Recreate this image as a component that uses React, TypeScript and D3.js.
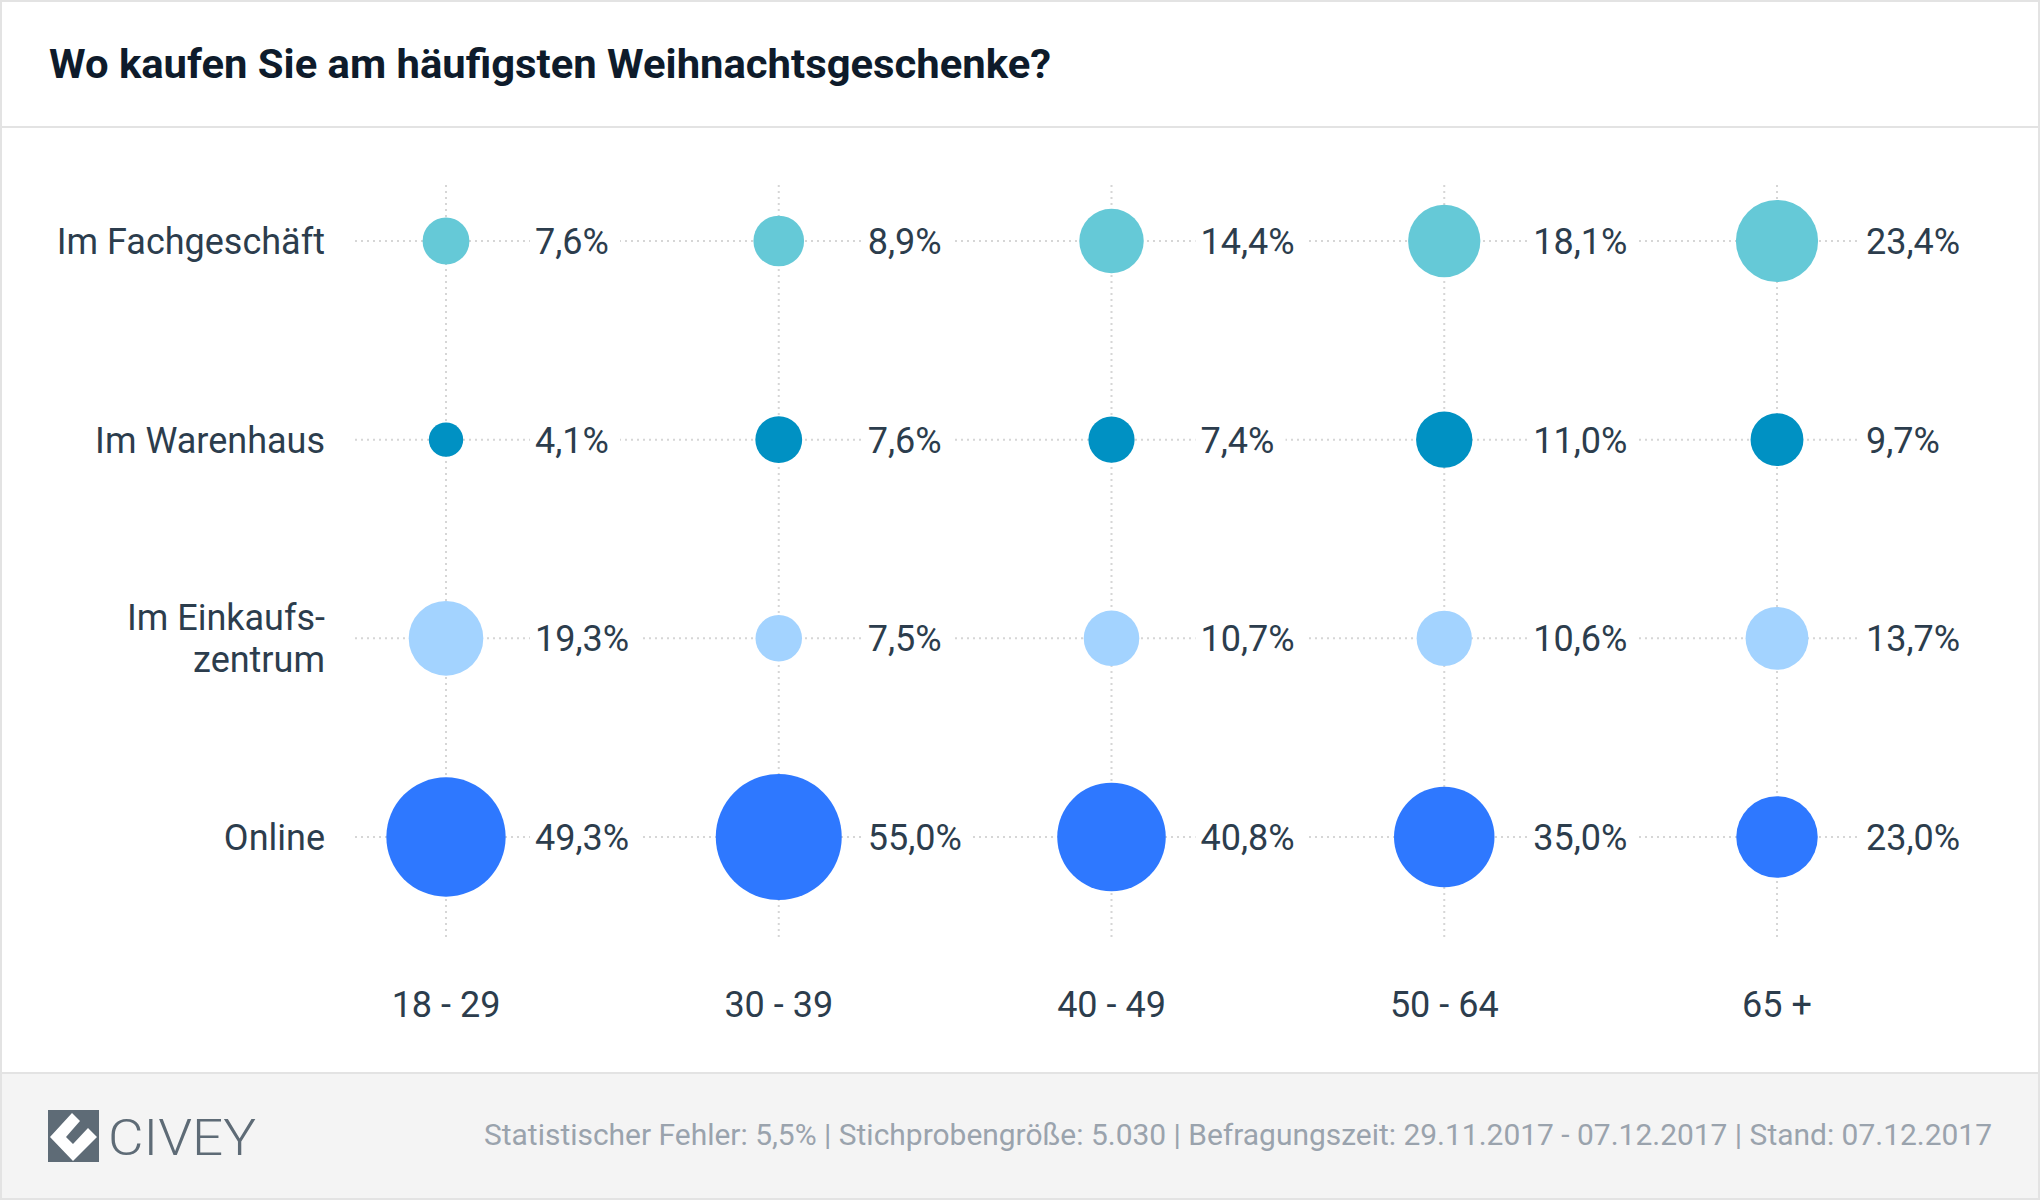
import React from 'react';
import * as d3 from 'd3';

const categories = ['18 - 29', '30 - 39', '40 - 49', '50 - 64', '65 +'];
const rowLabels = ['Im Fachgeschäft', 'Im Warenhaus', 'Im Einkaufs-\nzentrum', 'Online'];
const fachgeschaeft = [7.6, 8.9, 14.4, 18.1, 23.4];
const warenhaus = [4.1, 7.6, 7.4, 11.0, 9.7];
const einkaufszentrum = [19.3, 7.5, 10.7, 10.6, 13.7];
const online = [49.3, 55.0, 40.8, 35.0, 23.0];
const rowColors = ['#65C9D7', '#0091C3', '#A3D3FF', '#2E78FF'];
const title = 'Wo kaufen Sie am häufigsten Weihnachtsgeschenke?';
const footer = 'Statistischer Fehler: 5,5% | Stichprobengröße: 5.030 | Befragungszeit: 29.11.2017 - 07.12.2017 | Stand: 07.12.2017';

const W = 2040;
const H = 1200;
const FONT = 'Roboto, "Noto Sans", sans-serif';
const TEXT = '#2C3D4D';

export default function App() {
  const series = [fachgeschaeft, warenhaus, einkaufszentrum, online];
  const x = d3.scalePoint<string>().domain(categories).range([446, 1777]);
  const y = d3.scalePoint<string>().domain(rowLabels).range([241, 837]);
  const r = d3.scaleSqrt().domain([0, 55]).range([0, 63]);
  const fmt = (v: number) => v.toFixed(1).replace('.', ',') + '%';

  return (
    <svg width={W} height={H} style={{ position: 'absolute', left: 0, top: 0 }} fontFamily={FONT}>
      <rect x={0} y={0} width={W} height={H} fill="#ffffff" />
      {/* footer */}
      <rect x={0} y={1073} width={W} height={H - 1073} fill="#F4F4F4" />
      <line x1={0} x2={W} y1={1073} y2={1073} stroke="#E3E3E3" strokeWidth={2} />
      {/* header separator */}
      <line x1={0} x2={W} y1={127} y2={127} stroke="#E3E3E3" strokeWidth={2} />
      {/* outer border */}
      <rect x={1} y={1} width={W - 2} height={H - 2} fill="none" stroke="#E3E3E3" strokeWidth={2} />

      <text x={49} y={78} fontSize={40} fontWeight={700} fill="#0E1B2B"
        textLength={1002} lengthAdjust="spacingAndGlyphs">{title}</text>

      {/* grid */}
      {categories.map((c) => (
        <line key={'v' + c} x1={x(c)} x2={x(c)} y1={185} y2={938}
          stroke="#D6D6D6" strokeWidth={2} strokeDasharray="2,4" />
      ))}
      {rowLabels.map((rl) => (
        <line key={'h' + rl} x1={355} x2={1862} y1={y(rl)} y2={y(rl)}
          stroke="#D6D6D6" strokeWidth={2} strokeDasharray="2,4" />
      ))}

      {/* bubbles & values */}
      {rowLabels.map((rl, ri) =>
        categories.map((c, ci) => {
          const v = series[ri][ci];
          const cx = x(c)!;
          const cy = y(rl)!;
          const label = fmt(v);
          const tw = label.length * 20;
          return (
            <g key={rl + c}>
              <circle cx={cx} cy={cy} r={r(v)} fill={rowColors[ri]} />
              <rect x={cx + 84} y={cy - 22} width={tw + 10} height={44} fill="#ffffff" />
              <text x={cx + 89} y={cy} dy="0.36em" fontSize={36} fill={TEXT}>{label}</text>
            </g>
          );
        })
      )}

      {/* row labels */}
      {rowLabels.map((rl) => {
        const lines = rl.split('\n');
        const cy = y(rl)!;
        const lh = 42;
        const start = cy - ((lines.length - 1) * lh) / 2;
        return (
          <text key={'l' + rl} textAnchor="end" fontSize={36} fill={TEXT}>
            {lines.map((ln, i) => (
              <tspan key={i} x={325} y={start + i * lh} dy="0.36em">{ln}</tspan>
            ))}
          </text>
        );
      })}

      {/* category labels */}
      {categories.map((c) => (
        <text key={'c' + c} x={x(c)} y={1004} dy="0.36em" textAnchor="middle" fontSize={36} fill={TEXT}>{c}</text>
      ))}

      {/* logo */}
      <rect x={48} y={1110} width={51} height={52} fill="#5E6B76" />
      <path d="M50 1137 L72 1113 L80 1121 L66 1137 L73 1144 L88 1128 L97 1137 L73 1161 Z"
        fill="#ffffff" />
      <text x={108} y={1137} dy="0.36em" fontSize={50} fontWeight={300} fill="#5E6B76"
        textLength={148} lengthAdjust="spacingAndGlyphs">CIVEY</text>

      <text x={484} y={1135} dy="0.36em" fontSize={29} fill="#9AA3AD"
        textLength={1508} lengthAdjust="spacingAndGlyphs">{footer}</text>
    </svg>
  );
}
